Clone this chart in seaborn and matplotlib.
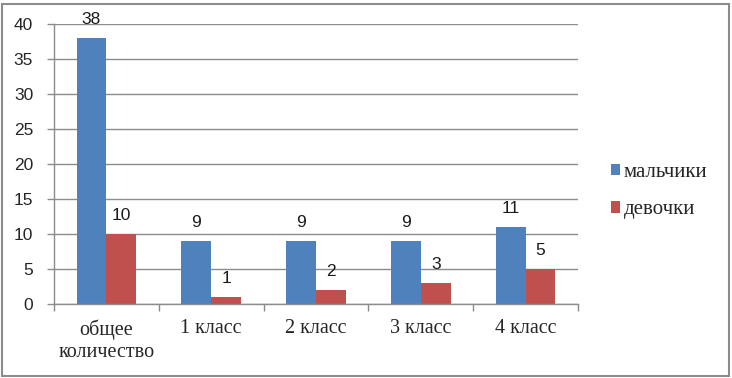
import matplotlib
matplotlib.use("Agg")
import matplotlib.pyplot as plt
import seaborn as sns
import pandas as pd
from matplotlib.patches import Rectangle, Patch

categories = ["общее\nколичество", "1 класс", "2 класс", "3 класс", "4 класс"]
series_names = ["мальчики", "девочки"]
boys = [38, 9, 9, 9, 11]
girls = [10, 1, 2, 3, 5]
y_ticks = [0, 5, 10, 15, 20, 25, 30, 35, 40]

colors = ["#4F81BD", "#C0504D"]

df = pd.DataFrame({
    "cat": categories * 2,
    "series": [series_names[0]] * len(categories) + [series_names[1]] * len(categories),
    "value": boys + girls,
})

sns.set_style("white")
fig = plt.figure(figsize=(7.32, 3.78), dpi=100)
ax = fig.add_axes([54 / 732, 1 - 304 / 378, (578 - 54) / 732, (304 - 24) / 378])

sns.barplot(data=df, x="cat", y="value", hue="series", palette=colors,
            width=0.57, gap=0, ax=ax, legend=False, saturation=1, edgecolor="none")

for cont in ax.containers:
    ax.bar_label(cont, padding=8, fontsize=12.5, family="Liberation Sans", color="#1a1a1a")

ax.set_ylim(0, 40)
ax.set_xlim(-0.5, len(categories) - 0.5)
ax.set_yticks(y_ticks)
ax.set_yticklabels([str(t) for t in y_ticks], fontsize=12.5, family="Liberation Sans")
ax.yaxis.grid(True, color="#8c8c8c", linewidth=1)
ax.set_axisbelow(True)

# category boundaries as major ticks, labels at centers via minor ticks
ax.set_xticks([i - 0.5 for i in range(len(categories) + 1)])
ax.set_xticklabels([""] * (len(categories) + 1))
ax.set_xticks(range(len(categories)), minor=True)
ax.set_xticklabels(categories, minor=True, fontsize=14.5, family="Liberation Serif",
                   linespacing=1.2)
ax.tick_params(axis="x", which="major", direction="out", length=5, color="#8c8c8c", width=1, bottom=True)
ax.tick_params(axis="x", which="minor", length=0, pad=11)
ax.tick_params(axis="y", direction="out", length=5, color="#8c8c8c", width=1, left=True, pad=10)

ax.set_xlabel("")
ax.set_ylabel("")
for s in ["top", "right"]:
    ax.spines[s].set_visible(False)
for s in ["left", "bottom"]:
    ax.spines[s].set_color("#8c8c8c")
    ax.spines[s].set_linewidth(1)

handles = [Patch(facecolor=c, edgecolor="none") for c in colors]
leg = fig.legend(handles, series_names, loc="center left", bbox_to_anchor=(611 / 732, 1 - 191 / 378),
                 frameon=False, prop={"family": "Liberation Serif", "size": 15},
                 handlelength=0.45, handleheight=0.45, handletextpad=0.15, labelspacing=0.9,
                 borderpad=0, borderaxespad=0)

fig.patches.append(Rectangle((2 / 732, 2 / 378), 727 / 732, 372 / 378, transform=fig.transFigure,
                             fill=False, edgecolor="#8c8c8c", linewidth=1.5))

fig.savefig("out.png", dpi=100)
